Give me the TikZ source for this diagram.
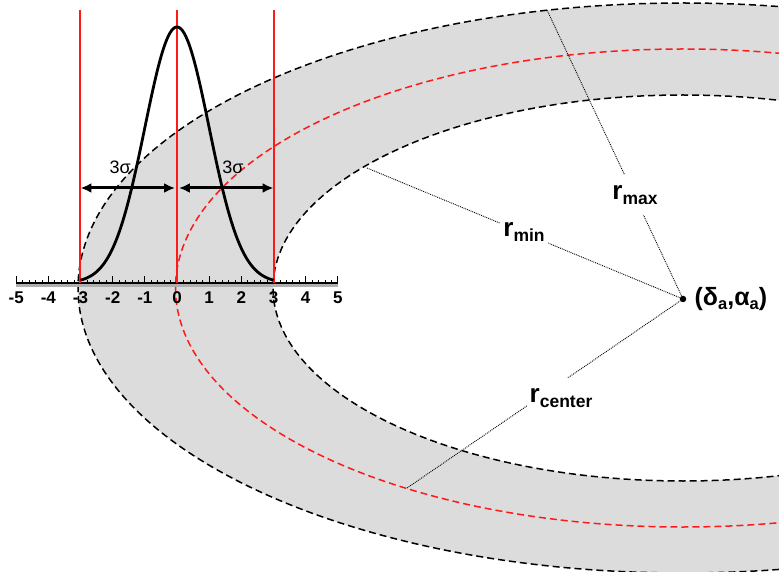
\documentclass[tikz,border=0pt]{standalone}
\usepackage{fontspec}
\setmainfont{Liberation Sans}
\usetikzlibrary{arrows.meta,positioning}
\definecolor{RingFill}{HTML}{DCDCDC}
\definecolor{Guide}{HTML}{FF1A1A}
\definecolor{Shade}{HTML}{B0B0B0}
\tikzset{
  ringEdge/.style={draw=black,line width=1.5pt,dash pattern=on 7pt off 4pt},
  ringMid/.style={ringEdge,draw=Guide},
  sigmaLine/.style={draw=Guide,line width=2pt},
  bell/.style={draw=black,line width=2.8pt},
  sigmaSpan/.style={{Latex[length=11pt,width=10pt]}-{Latex[length=11pt,width=10pt]},line width=3pt},
  radLine/.style={draw=black,densely dotted,line width=0.9pt},
  rLabel/.style={fill=white,inner xsep=3pt,inner ysep=10pt,font=\fontsize{26}{26}\selectfont\bfseries},
  tickLabel/.style={inner sep=0pt,font=\fontsize{17}{17}\selectfont\bfseries},
  sigmaLabel/.style={inner sep=0pt,font=\fontsize{18}{18}\selectfont}
}
\newcommand{\rsub}[1]{r\raisebox{-5pt}{\fontsize{17.5}{17.5}\selectfont #1}}
\newcommand{\lowsub}[1]{\raisebox{-4pt}{\fontsize{16.5}{16.5}\selectfont #1}}

\begin{document}
\begin{tikzpicture}[x=1pt,y=1pt]
\useasboundingbox (0,0) rectangle (779,571);
\clip (0,0) rectangle (779,571);
\coordinate (E) at (683,283);
\fill[RingFill,even odd rule] (E) ellipse [x radius=605pt,y radius=285pt] (E) ellipse [x radius=410pt,y radius=193pt];
\draw[ringEdge] (E) ellipse [x radius=605pt,y radius=285pt];
\draw[ringEdge] (E) ellipse [x radius=410pt,y radius=193pt];
\draw[ringMid] (E) ellipse [x radius=507.5pt,y radius=239pt];

\begin{scope}[shift={(177pt,288pt)},x=32.17pt,y=1pt]
\draw[Shade,line width=3pt] (-5,-2.5) -- (5,-2.5);
\draw[line width=1.8pt] (-5,0) -- (5,0);
\foreach \t in {-5,-4.8,...,5} \draw[line width=0.7pt] (\t,0) -- (\t,3);
\foreach \t in {-5,...,5} {
  \draw[line width=0.9pt] (\t,0) -- (\t,7);
  \node[tickLabel] (tick\t) at (\t,-14.5) {\t};
}
\foreach \t in {-3,0,3} \draw[sigmaLine] (\t,0) -- (\t,273);
\draw[bell] plot[domain=-3:3,samples=120,smooth] (\x,{256*exp(-\x*\x/2)});
\coordinate (spanL) at (-3,95);
\coordinate (spanML) at (-0.06,95);
\coordinate (spanMR) at (0.06,95);
\coordinate (spanR) at (3,95);
\draw[sigmaSpan] (spanL) -- (spanML);
\draw[sigmaSpan] (spanMR) -- (spanR);
\node[sigmaLabel] (sigL) at (-1.77,116) {3σ};
\node[sigmaLabel] (sigR) at (1.74,116) {3σ};
\end{scope}

\node[circle,fill=black,inner sep=0pt,minimum size=6.5pt] (pt) at (683,272) {};
\node[right=8pt of pt,inner sep=0pt,font=\fontsize{25}{25}\selectfont\bfseries] (ctr) {(δ\lowsub{a},α\lowsub{a})};
\coordinate (maxEnd) at (547,561);
\coordinate (minEnd) at (367,403);
\coordinate (ctrEnd) at (407,83);
\draw[radLine] (maxEnd) -- (pt);
\draw[radLine] (minEnd) -- (pt);
\draw[radLine] (ctrEnd) -- (pt);
\node[rLabel] (rmax) at (635,376) {\rsub{max}};
\node[rLabel] (rmin) at (524,339) {\rsub{min}};
\node[rLabel] (rctr) at (561,173) {\rsub{center}};
\end{tikzpicture}
\end{document}
